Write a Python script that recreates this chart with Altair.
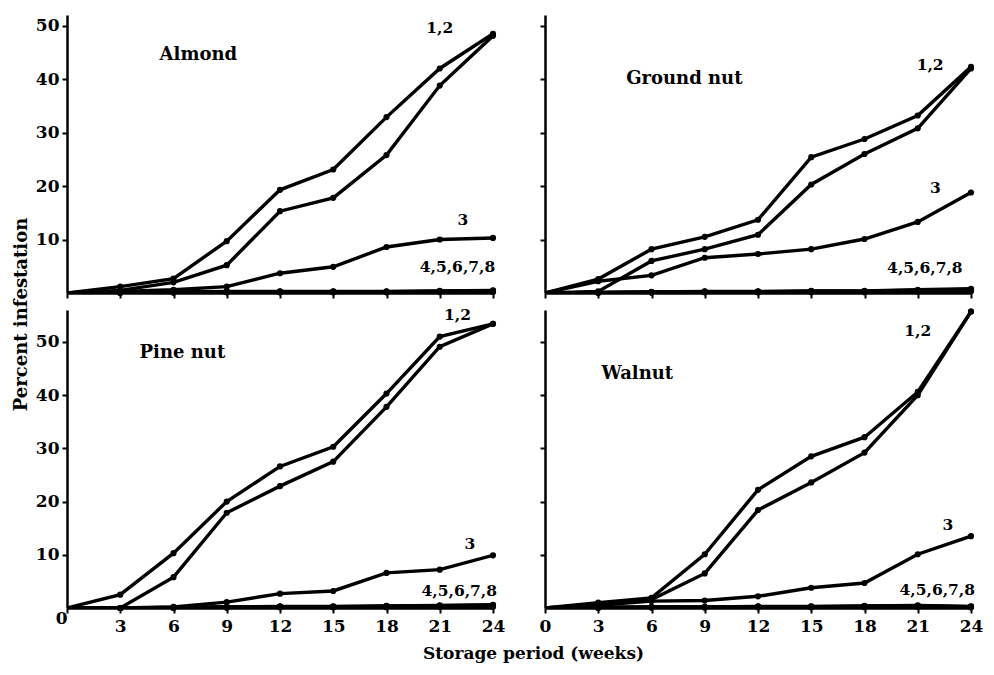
import altair as alt
import pandas as pd

weeks = [0, 3, 6, 9, 12, 15, 18, 21, 24]

almond_1 = [0, 1.2, 2.7, 9.7, 19.3, 23.1, 32.9, 42.0, 48.5]
almond_2 = [0, 0.5, 2.0, 5.2, 15.3, 17.8, 25.8, 38.8, 48.1]
almond_3 = [0, 0.3, 0.6, 1.2, 3.7, 4.9, 8.6, 10.0, 10.3]
almond_low = [0, 0.1, 0.2, 0.3, 0.3, 0.3, 0.3, 0.4, 0.5]

ground_1 = [0, 2.6, 8.2, 10.5, 13.7, 25.4, 28.8, 33.2, 42.3]
ground_2 = [0, 0.3, 6.0, 8.2, 10.9, 20.3, 26.0, 30.8, 42.0]
ground_3 = [0, 2.2, 3.3, 6.6, 7.3, 8.2, 10.1, 13.3, 18.8]
ground_low = [0, 0.1, 0.2, 0.3, 0.3, 0.4, 0.4, 0.6, 0.8]

pine_1 = [0, 2.5, 10.3, 20.0, 26.6, 30.3, 40.3, 51.0, 53.4]
pine_2 = [0, 0.0, 5.8, 17.9, 22.9, 27.5, 37.8, 49.1, 53.4]
pine_3 = [0, 0.0, 0.2, 1.1, 2.7, 3.2, 6.6, 7.2, 9.9]
pine_low = [0, 0.0, 0.1, 0.2, 0.3, 0.3, 0.4, 0.5, 0.6]

walnut_1 = [0, 1.0, 1.9, 10.1, 22.2, 28.5, 32.1, 40.6, 55.7]
walnut_2 = [0, 0.7, 1.6, 6.5, 18.4, 23.6, 29.2, 40.0, 55.7]
walnut_3 = [0, 0.5, 1.3, 1.4, 2.2, 3.8, 4.7, 10.1, 13.5]
walnut_low = [0, 0.1, 0.2, 0.2, 0.3, 0.3, 0.4, 0.5, 0.3]

low_offsets = [0.0, 0.15, 0.3, 0.45, 0.6]  # lines 4-8 nearly coincide

annot_texts = ["1,2", "3", "4,5,6,7,8"]
almond_annot = [(21.0, 49.5), (22.3, 13.6), (22.0, 4.9)]
ground_annot = [(21.7, 42.6), (22.0, 19.6), (21.4, 4.6)]
pine_annot = [(22.0, 55.0), (22.7, 12.1), (22.1, 3.2)]
walnut_annot = [(21.0, 52.0), (22.7, 15.6), (22.1, 3.4)]

titles = ["Almond", "Ground nut", "Pine nut", "Walnut"]
title_pos = [(7.4, 44.5), (7.85, 40.0), (6.5, 48.0), (5.2, 44.0)]

FONT = "DejaVu Serif"
W = 426


def series_df(s1, s2, s3, low):
    rows = []
    for name, vals in (("1", s1), ("2", s2), ("3", s3)):
        for w, v in zip(weeks, vals):
            rows.append({"week": w, "value": v, "series": name})
    for i, off in enumerate(low_offsets):
        for w, v in zip(weeks, low):
            rows.append({"week": w, "value": max(0, v * (1 - off)), "series": str(4 + i)})
    return pd.DataFrame(rows)


def panel(title, tpos, data, annots, ymax, height, xlabels, ylabels, ytitle=False, xtitle=False):
    df = series_df(*data)
    xkw = dict(values=weeks, labels=xlabels, tickSize=5, labelPadding=5, labelFlush=False)
    if xtitle:
        xkw.update(title="Storage period (weeks)", titleX=466, titleY=45,
                   titleBaseline="middle", titleAlign="center",
                   titleFont=FONT, titleFontSize=17, titleFontWeight="bold", titleColor="black",
                   labelAlign={"condition": {"test": "datum.value == 0", "value": "right"},
                               "value": "center"},
                   labelBaseline={"condition": {"test": "datum.value == 0", "value": "middle"},
                                  "value": "top"})
    else:
        xkw.update(title=None)
    xaxis = alt.Axis(**xkw)
    ykw = dict(values=[10, 20, 30, 40, 50], labels=ylabels, tickSize=5, labelPadding=3)
    if ytitle:
        ykw.update(title="Percent infestation", titleX=-46, titleY=4,
                   titleBaseline="middle", titleAlign="center",
                   titleFont=FONT, titleFontSize=18, titleFontWeight="bold", titleColor="black")
    else:
        ykw.update(title=None)
    yaxis = alt.Axis(**ykw)
    x = alt.X("week:Q", scale=alt.Scale(domain=[0, 24], nice=False), axis=xaxis)
    y = alt.Y("value:Q", scale=alt.Scale(domain=[0, ymax], nice=False), axis=yaxis)
    lines = alt.Chart(df).mark_line(color="black", strokeWidth=3.4, clip=True).encode(
        x=x, y=y, detail="series:N")
    pts = alt.Chart(df[df["week"] > 0]).mark_circle(color="black", size=38, opacity=1).encode(
        x=x, y=y, detail="series:N")
    adf = pd.DataFrame({"week": [a[0] for a in annots], "value": [a[1] for a in annots],
                        "label": annot_texts})
    ann = alt.Chart(adf).mark_text(font=FONT, fontSize=15.5, fontWeight="bold", color="black",
                                   align="center", baseline="middle").encode(
        x=x, y=y, text="label:N")
    tdf = pd.DataFrame({"week": [tpos[0]], "value": [tpos[1]], "label": [title]})
    ttl = alt.Chart(tdf).mark_text(font=FONT, fontSize=18, fontWeight="bold", color="black",
                                   align="center", baseline="middle").encode(
        x=x, y=y, text="label:N")
    return alt.layer(lines, pts, ann, ttl).properties(width=W, height=height)


a = panel(titles[0], title_pos[0], (almond_1, almond_2, almond_3, almond_low), almond_annot,
          52, 278, False, True)
b = panel(titles[1], title_pos[1], (ground_1, ground_2, ground_3, ground_low), ground_annot,
          52, 278, False, False)
c = panel(titles[2], title_pos[2], (pine_1, pine_2, pine_3, pine_low), pine_annot,
          56, 298, True, True, ytitle=True, xtitle=True)
d = panel(titles[3], title_pos[3], (walnut_1, walnut_2, walnut_3, walnut_low), walnut_annot,
          56, 298, True, False)

chart = alt.concat(a, b, c, d, columns=2, spacing={"row": 17, "column": 52},
                   bounds="flush", align="each").properties(
    padding={"left": 3, "top": 7, "right": 0, "bottom": 6}
).configure_view(stroke=None).configure_axis(
    grid=False, domainColor="black", domainWidth=2.5, tickColor="black", tickWidth=2,
    labelFont=FONT, labelFontSize=17, labelFontWeight="bold", labelColor="black"
)

chart.save("out.html", embed_options={"renderer": "svg", "actions": False})
